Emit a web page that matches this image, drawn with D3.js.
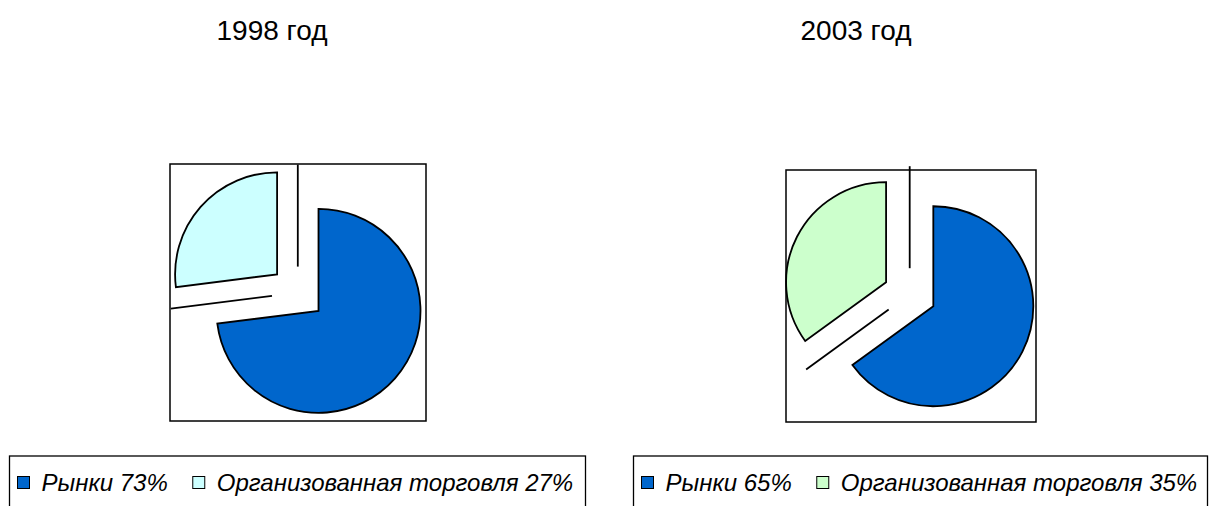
<!DOCTYPE html>
<html>
<head>
<meta charset="utf-8">
<title>Рынки и организованная торговля</title>
<script src="https://d3js.org/d3.v7.min.js"></script>
<style>
  body { margin: 0; background: #fff; }
  text { font-family: "Liberation Sans", Arial, sans-serif; fill: #000; }
</style>
</head>
<body>
<div id="chart"></div>
<script>
// data
var years = ["1998 год", "2003 год"];
var categories = ["Рынки", "Организованная торговля"];
var shares1998 = [73, 27];
var shares2003 = [65, 35];
var colors1998 = ["#0066CC", "#CCFFFF"];
var colors2003 = ["#0066CC", "#CCFFCC"];

var W = 1210, H = 506;

var svg = d3.select("#chart")
  .append("svg")
  .attr("width", W)
  .attr("height", H);

// layout of the two panels
var panels = [
  { title: years[0], values: shares1998, colors: colors1998,
    titleX: 272, box: [170, 164, 256, 257], cx: 297.8, cy: 292.6, r: 102, explode: 27.6,
    legend: [9.5, 456, 576] },
  { title: years[1], values: shares2003, colors: colors2003,
    titleX: 856, box: [786, 170, 250, 252], cx: 909.7, cy: 294.2, r: 100, explode: 26.5,
    legend: [633.5, 456, 574] }
];

var pie = d3.pie().sort(null).value(function (d) { return d; });

panels.forEach(function (p) {
  var g = svg.append("g");

  // title
  g.append("text")
    .attr("x", p.titleX)
    .attr("y", 40)
    .attr("text-anchor", "middle")
    .style("font-size", "28px")
    .text(p.title);

  // plot area frame
  g.append("rect")
    .attr("x", p.box[0]).attr("y", p.box[1])
    .attr("width", p.box[2]).attr("height", p.box[3])
    .attr("fill", "none")
    .attr("stroke", "#000")
    .attr("stroke-width", 1.5);

  var arcs = pie(p.values);
  var arc = d3.arc().innerRadius(0).outerRadius(p.r);

  // radial separator lines left along slice borders
  g.selectAll("line.sep")
    .data(arcs)
    .enter()
    .append("line")
    .attr("class", "sep")
    .attr("x1", function (d) { return p.cx + 26 * Math.sin(d.startAngle); })
    .attr("y1", function (d) { return p.cy - 26 * Math.cos(d.startAngle); })
    .attr("x2", function (d) { return p.cx + 128 * Math.sin(d.startAngle); })
    .attr("y2", function (d) { return p.cy - 128 * Math.cos(d.startAngle); })
    .attr("stroke", "#000")
    .attr("stroke-width", 1.8);

  // exploded slices
  g.selectAll("path.slice")
    .data(arcs)
    .enter()
    .append("path")
    .attr("class", "slice")
    .attr("transform", function (d) {
      var a = (d.startAngle + d.endAngle) / 2;
      return "translate(" + (p.cx + p.explode * Math.sin(a)) + "," + (p.cy - p.explode * Math.cos(a)) + ")";
    })
    .attr("d", arc)
    .attr("fill", function (d, i) { return p.colors[i]; })
    .attr("stroke", "#000")
    .attr("stroke-width", 1.8)
    .attr("stroke-linejoin", "miter");

  // legend
  var lg = g.append("g");
  lg.append("rect")
    .attr("x", p.legend[0]).attr("y", p.legend[1])
    .attr("width", p.legend[2]).attr("height", 80)
    .attr("fill", "none")
    .attr("stroke", "#000")
    .attr("stroke-width", 1.3);

  var xPos = p.legend[0] + 8;
  categories.forEach(function (c, i) {
    lg.append("rect")
      .attr("x", xPos).attr("y", 476.5)
      .attr("width", 12).attr("height", 12)
      .attr("fill", p.colors[i])
      .attr("stroke", "#000")
      .attr("stroke-width", 1);
    var t = lg.append("text")
      .attr("x", xPos + 24)
      .attr("y", 491)
      .style("font-size", "24px")
      .style("font-style", "italic")
      .text(c + " " + p.values[i] + "%");
    xPos += 24 + t.node().getComputedTextLength() + 25;
  });
});
</script>
</body>
</html>
